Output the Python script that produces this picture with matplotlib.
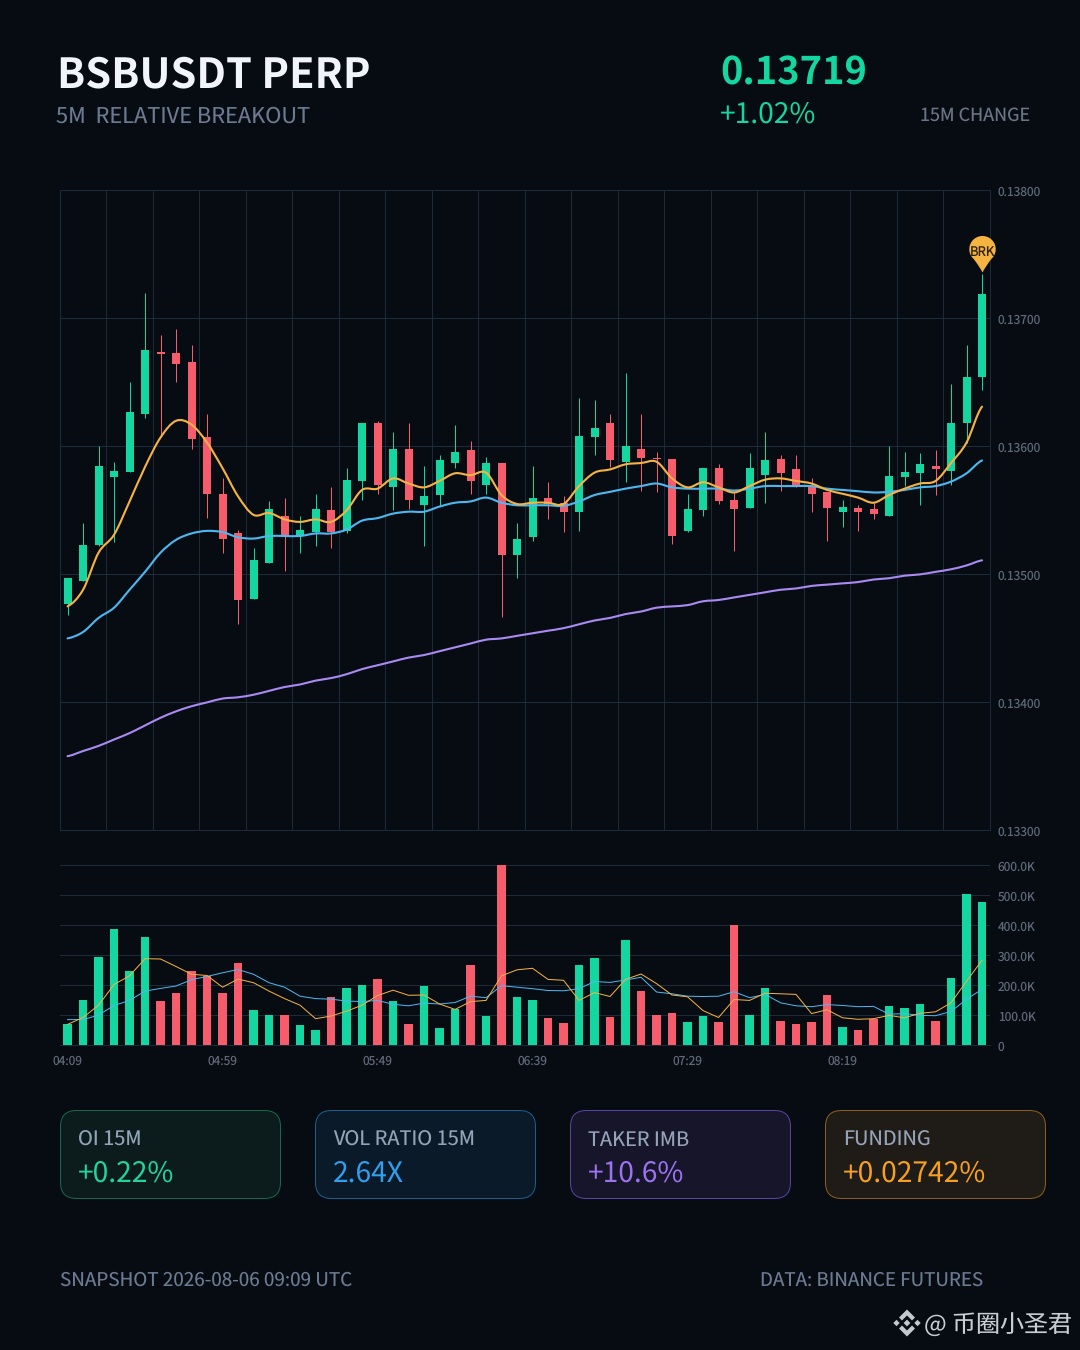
import matplotlib
matplotlib.use('Agg')
import matplotlib.pyplot as plt
import numpy as np
from matplotlib.patches import FancyBboxPatch, PathPatch, Polygon
from matplotlib.path import Path
from matplotlib.ticker import FixedLocator, FuncFormatter
from matplotlib.transforms import ScaledTranslation

plt.rcParams['font.family'] = ['Noto Sans CJK SC', 'DejaVu Sans']
plt.rcParams['text.hinting'] = 'no_hinting'
plt.rcParams['text.hinting_factor'] = 1

# prices are kept in 1e-5 units
opens = [13477, 13495, 13523, 13576, 13580, 13625, 13674, 13673, 13666, 13607,
         13563, 13532, 13481, 13509, 13546, 13530, 13533, 13550, 13534, 13573,
         13618, 13568, 13598, 13554, 13562, 13587, 13597, 13570, 13587, 13515,
         13529, 13560, 13556, 13549, 13607, 13618, 13588, 13598, 13591, 13590,
         13534, 13550, 13583, 13558, 13552, 13578, 13590, 13582, 13569, 13564,
         13549, 13552, 13551, 13546, 13576, 13579, 13585, 13581, 13618, 13654]
closes = [13497, 13523, 13585, 13581, 13627, 13675, 13672, 13664, 13606, 13563,
          13528, 13480, 13511, 13551, 13530, 13535, 13551, 13533, 13574, 13618,
          13570, 13598, 13558, 13561, 13589, 13596, 13573, 13587, 13515, 13528,
          13560, 13555, 13549, 13608, 13614, 13589, 13600, 13591, 13590, 13530,
          13551, 13583, 13557, 13551, 13583, 13589, 13579, 13568, 13563, 13552,
          13553, 13549, 13547, 13577, 13580, 13586, 13582, 13618, 13654, 13719]
highs = [13497, 13540, 13600, 13588, 13650, 13720, 13687, 13692, 13679, 13625,
         13575, 13535, 13521, 13557, 13560, 13546, 13563, 13568, 13583, 13618,
         13620, 13611, 13618, 13585, 13593, 13617, 13604, 13592, 13587, 13540,
         13585, 13572, 13561, 13638, 13636, 13625, 13657, 13625, 13596, 13590,
         13563, 13583, 13586, 13564, 13595, 13611, 13593, 13593, 13575, 13564,
         13558, 13554, 13556, 13600, 13596, 13595, 13597, 13649, 13679, 13735]
lows = [13468, 13495, 13522, 13525, 13580, 13622, 13607, 13650, 13598, 13544,
        13517, 13461, 13481, 13509, 13503, 13517, 13522, 13521, 13532, 13558,
        13563, 13550, 13551, 13522, 13554, 13583, 13563, 13563, 13467, 13497,
        13526, 13543, 13533, 13534, 13593, 13584, 13572, 13565, 13564, 13524,
        13533, 13546, 13555, 13518, 13552, 13556, 13565, 13568, 13549, 13526,
        13537, 13534, 13543, 13546, 13569, 13554, 13562, 13570, 13603, 13644]
ema_fast = [13475, 13488, 13517, 13531, 13557, 13584, 13607, 13620, 13617, 13603,
            13583, 13561, 13546.5, 13548, 13543, 13541, 13543, 13541, 13550, 13566,
            13567, 13575, 13571, 13568, 13573, 13579, 13577.5, 13579.5, 13562, 13555,
            13556, 13556, 13555, 13569, 13579.5, 13582, 13586, 13587, 13588, 13575,
            13568, 13572, 13568, 13564, 13569, 13574, 13575, 13573, 13571, 13566,
            13563, 13560, 13556, 13562, 13567, 13571, 13573, 13587, 13603, 13631]
ema_mid = [13450, 13455, 13466, 13474, 13488, 13502, 13517, 13527, 13532, 13534,
           13533, 13529, 13528, 13530, 13530, 13530, 13532, 13532, 13535, 13542,
           13544, 13547.5, 13549, 13549, 13553, 13556, 13557, 13560, 13556, 13554,
           13554, 13554, 13553.5, 13557, 13562, 13564.5, 13567, 13569, 13571, 13568,
           13567, 13567, 13567, 13565.5, 13567, 13569, 13569, 13569, 13569, 13567,
           13566, 13565, 13564, 13564.5, 13566, 13568, 13569, 13572.5, 13579, 13589]
ema_slow = [13358, 13362, 13366, 13371, 13376, 13382, 13388, 13393, 13397, 13400,
            13403, 13404, 13406, 13409, 13412, 13414, 13417, 13419, 13422, 13426,
            13429, 13432, 13435, 13437, 13440, 13443, 13446, 13449, 13450, 13452,
            13454, 13456, 13458, 13461, 13464, 13466, 13469, 13471, 13474, 13475,
            13476, 13479, 13480, 13482, 13484, 13486, 13488, 13489, 13491, 13492,
            13493, 13494, 13496, 13497, 13499, 13500, 13502, 13504, 13507, 13511]

# volume in thousands
volumes = [70, 151, 294, 388, 247, 363, 147, 174, 249, 232,
           174, 274, 117, 103, 103, 69, 50, 162, 191, 201,
           221, 147, 73, 197, 58, 123, 268, 98, 600, 163,
           151, 90, 74, 267, 293, 96, 350, 180, 103, 107,
           78, 98, 77, 400, 101, 192, 82, 72, 77, 168,
           60, 53, 89, 133, 124, 137, 81, 224, 506, 477]
vol_fast = [70, 93, 134, 203, 232, 289, 288, 263, 237, 233,
            194, 221, 209, 181, 156, 134, 89, 98, 114, 134,
            166, 184, 167, 168, 138, 120, 146, 150, 232, 252,
            257, 220, 217, 150, 176, 163, 220, 238, 206, 168,
            162, 116, 93, 153, 150, 174, 172, 170, 106, 119,
            92, 87, 89, 100, 92, 107, 112, 142, 214, 284]
vol_slow = [86, 86, 101, 133, 150, 181, 190, 198, 219, 230,
            242, 253, 237, 209, 194, 164, 156, 154, 148, 146,
            150, 137, 132, 141, 138, 143, 164, 159, 199, 194,
            189, 183, 182, 189, 213, 210, 218, 227, 178, 172,
            164, 163, 164, 179, 159, 170, 142, 132, 129, 136,
            133, 129, 130, 104, 106, 100, 99, 113, 154, 187]

time_labels = ['04:09', '04:59', '05:49', '06:39', '07:29', '08:19']
price_ticks = [13300, 13400, 13500, 13600, 13700, 13800]
vol_ticks = [0, 100, 200, 300, 400, 500, 600]

cards = [('OI 15M', '+0.22%', '#0c1c1d', '#14694f', '#22d49a'),
         ('VOL RATIO 15M', '2.64X', '#0b1a29', '#1c5f8f', '#2f9ff0'),
         ('TAKER IMB', '+10.6%', '#161529', '#5a44a0', '#9b72f0'),
         ('FUNDING', '+0.02742%', '#1f1b17', '#8f5f1a', '#f5a020')]

BG = '#070b12'
GREEN = '#14d6a0'
RED = '#f65c6c'
ORANGE = '#f5b342'
BLUE = '#4db8f0'
PURPLE = '#a98af0'
GRID = '#1d2a3a'
TICK = '#5f6878'
W, H = 1080, 1350
PT = 0.72  # points per pixel at dpi 100


def smooth_line(ax, ys, color, lw):
    # cubic curve through the values, like a smooth line option
    xs = np.arange(len(ys), dtype=float)
    ys = np.asarray(ys, dtype=float)
    verts = [(xs[0], ys[0])]
    codes = [Path.MOVETO]
    for i in range(len(xs) - 1):
        y0 = ys[max(i - 1, 0)]
        y3 = ys[min(i + 2, len(ys) - 1)]
        verts += [(xs[i] + 1 / 3, ys[i] + (ys[i + 1] - y0) / 6),
                  (xs[i + 1] - 1 / 3, ys[i + 1] - (y3 - ys[i]) / 6),
                  (xs[i + 1], ys[i + 1])]
        codes += [Path.CURVE4] * 3
    ax.add_patch(PathPatch(Path(verts, codes), fc='none', ec=color, lw=lw, capstyle='round', zorder=4))


def pixel_axes(fig, x0, x1, y0, y1):
    return fig.add_axes([x0 / W, 1 - y1 / H, (x1 - x0) / W, (y1 - y0) / H], facecolor='none')


def txt(ax, x, y, s, px, color, ha='left', weight='normal'):
    ax.text(x, y, s, fontsize=px * PT, color=color, ha=ha, va='baseline', fontweight=weight)


fig = plt.figure(figsize=(W / 100, H / 100), dpi=100, facecolor=BG)

bg = fig.add_axes([0, 0, 1, 1], facecolor=BG)
bg.set_xlim(0, W)
bg.set_ylim(H, 0)
bg.axis('off')

txt(bg, 57, 87.3, 'BSBUSDT PERP', 41.5, '#f1f5fb', weight='bold')
txt(bg, 56, 122.7, '5M  RELATIVE BREAKOUT', 21.8, '#6b7a90')
txt(bg, 720, 84, '0.13719', 38, GREEN, weight='bold')
txt(bg, 720, 122.5, '+1.02%', 28.2, GREEN)
txt(bg, 1030, 120.5, '15M CHANGE', 18, '#6b7485', ha='right')

# stat cards
for i, (label, value, fill, edge, vcol) in enumerate(cards):
    x0 = 60.5 + 255 * i
    bg.add_patch(FancyBboxPatch((x0 + 16, 1110.5 + 16), 220 - 32, 88 - 32,
                                boxstyle='round,pad=16,rounding_size=16',
                                fc=fill, ec=edge, lw=1.0 * PT))
    txt(bg, x0 + 17.5, 1145.5, label, 20, '#94a3b8')
    txt(bg, x0 + 17.5, 1181.5, value, 28.2, vcol)

txt(bg, 60, 1286, 'SNAPSHOT 2026-08-06 09:09 UTC', 18.9, '#6b7a90')
txt(bg, 983, 1286, 'DATA: BINANCE FUTURES', 18.8, '#6b7a90', ha='right')

# watermark logo
LOGO = '#c5c9cf'
cx, cy = 907, 1323
chevron = np.array([(0, -13.5), (8, -5.5), (5, -2.5), (0, -7.5), (-5, -2.5), (-8, -5.5)])
bg.add_patch(Polygon(chevron + (cx, cy), fc=LOGO, ec='none'))
bg.add_patch(Polygon(chevron * (1, -1) + (cx, cy), fc=LOGO, ec='none'))
for dx, r in ((-10.5, 3.2), (10.5, 3.2), (0, 3.4)):
    bg.add_patch(Polygon([(cx + dx, cy - r), (cx + dx + r, cy), (cx + dx, cy + r), (cx + dx - r, cy)], fc=LOGO, ec='none'))
txt(bg, 1072, 1332, '@ 币圈小圣君', 24, '#c8cdd3', ha='right')

# price panel
xs = np.arange(len(opens))
o, c, hi, lo = map(np.array, (opens, closes, highs, lows))
colors = [GREEN if a >= b else RED for a, b in zip(c, o)]

ax = pixel_axes(fig, 59.8, 989.8, 190.4, 830.4)
ax.set_xlim(-0.5, 59.5)
ax.set_ylim(13300, 13800)
ax.vlines(xs, lo, hi, colors=colors, lw=1.0 * PT, zorder=2)
ax.bar(xs, np.abs(c - o), bottom=np.minimum(o, c), width=8 / 15.5, color=colors, zorder=3)
smooth_line(ax, ema_slow, PURPLE, 2.1 * PT)
smooth_line(ax, ema_mid, BLUE, 2.1 * PT)
smooth_line(ax, ema_fast, ORANGE, 2.1 * PT)

ax.yaxis.tick_right()
ax.yaxis.set_major_locator(FixedLocator(price_ticks))
ax.yaxis.set_major_formatter(FuncFormatter(lambda v, _: f'{v / 1e5:.5f}'))
ax.xaxis.set_major_locator(FixedLocator(np.arange(-0.5, 60, 3)))
ax.tick_params(axis='x', length=0, labelbottom=False)
ax.tick_params(axis='y', length=0, pad=8 * PT, labelsize=12 * PT, labelcolor=TICK)
ax.grid(True, color=GRID, lw=1.0 * PT, zorder=0)
ax.set_axisbelow(True)
for s in ax.spines.values():
    s.set_color(GRID)
    s.set_linewidth(1.0 * PT)

# breakout pin, tip sits just above the last high
th = np.radians(np.linspace(-48, 228, 40))
arc = np.column_stack((12.7 * np.cos(th), 22.4 + 12.7 * np.sin(th)))
pin_verts = np.vstack((arc, [(-3, 6), (0, 0), (3, 6), arc[0]]))
pin_codes = [Path.MOVETO] + [Path.LINETO] * 39 + [Path.CURVE3] * 4
ax.plot([xs[-1]], [highs[-1] + 1.3], marker=Path(pin_verts, pin_codes), ms=2 * 36.5 * PT, mfc=ORANGE, mec='none', zorder=6, clip_on=False)
ax.annotate('BRK', (xs[-1], highs[-1]), xytext=(0, 21 * PT), textcoords='offset points', ha='center', va='center',
            fontsize=13 * PT, color='#2a1f0a', zorder=7)

# volume panel
vax = pixel_axes(fig, 59.8, 989.8, 865.4, 1045.4)
vax.set_xlim(-0.5, 59.5)
vax.set_ylim(0, 600)
vax.bar(xs, volumes, width=8.6 / 15.5, color=colors, zorder=2)
vax.plot(xs, vol_slow, color=BLUE, lw=1.0 * PT, zorder=3)
vax.plot(xs, vol_fast, color=ORANGE, lw=1.0 * PT, zorder=3)
vax.yaxis.tick_right()
vax.yaxis.set_major_locator(FixedLocator(vol_ticks))
vax.yaxis.set_major_formatter(FuncFormatter(lambda v, _: f'{v:.1f}K' if v else '0'))
vax.xaxis.set_major_locator(FixedLocator(xs[::10][:len(time_labels)]))
vax.set_xticklabels(time_labels)
vax.tick_params(axis='x', length=0, pad=9.5 * PT, labelsize=12 * PT, labelcolor=TICK)
vax.tick_params(axis='y', length=0, pad=8 * PT, labelsize=12 * PT, labelcolor=TICK)
vax.grid(True, axis='y', color=GRID, lw=1.0 * PT, zorder=0)
vax.set_axisbelow(True)
for name, s in vax.spines.items():
    s.set_visible(name == 'bottom')
    s.set_color(GRID)
    s.set_linewidth(1.0 * PT)

# y labels sit about a pixel lower in the original
nudge = ScaledTranslation(0, -0.7 / 100, fig.dpi_scale_trans)
for a in (ax, vax):
    for label in a.get_yticklabels():
        label.set_transform(label.get_transform() + nudge)

fig.savefig('out.png', dpi=100, facecolor=BG)
